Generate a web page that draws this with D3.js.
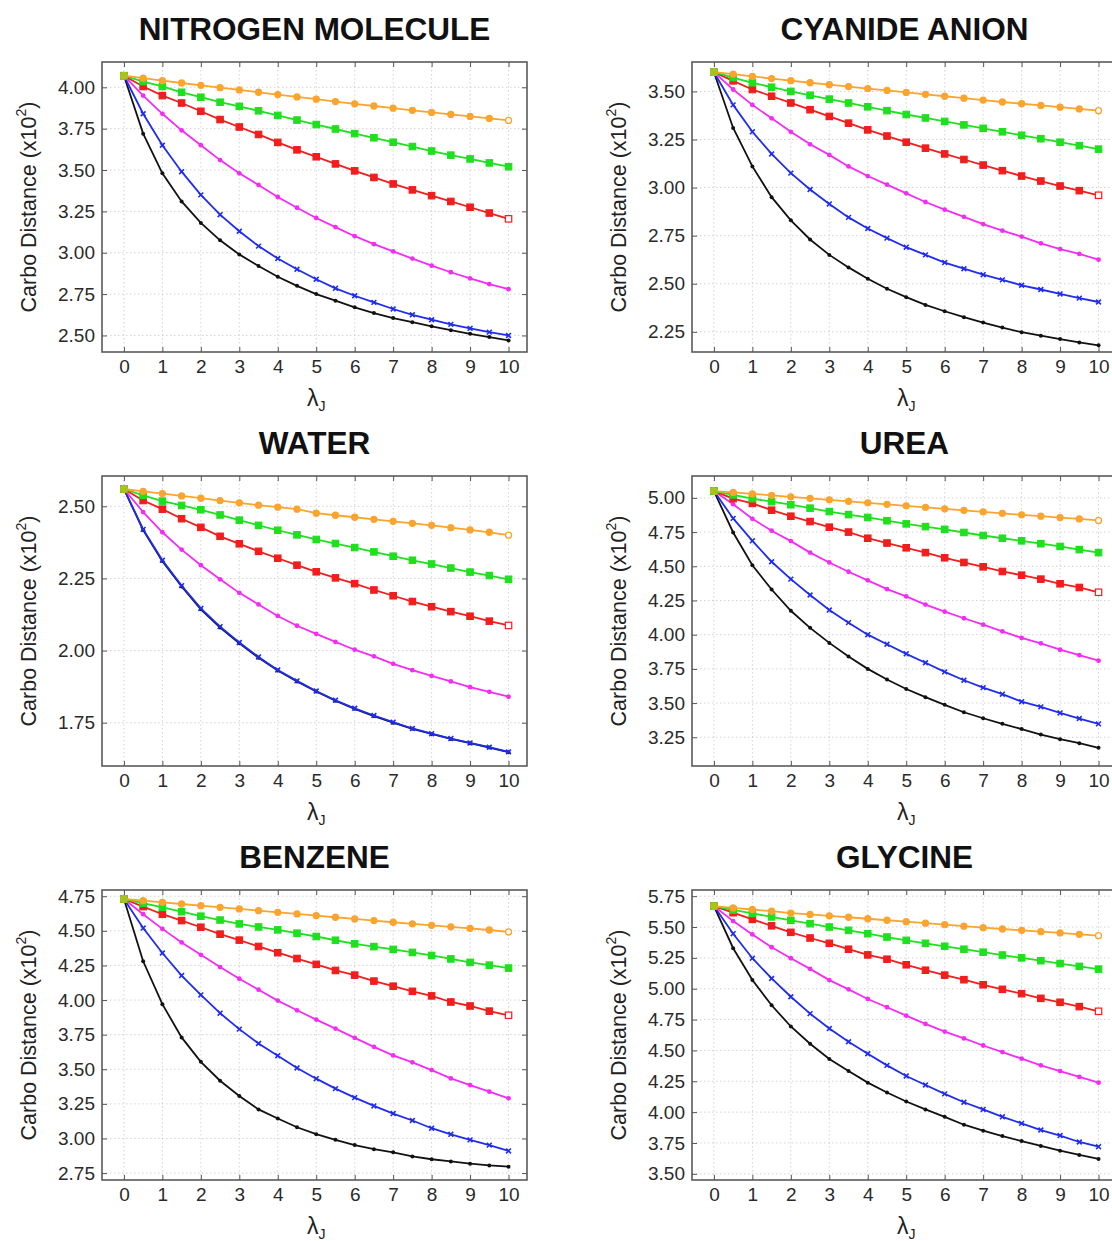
<!DOCTYPE html>
<html>
<head>
<meta charset="utf-8">
<script src="https://cdn.jsdelivr.net/npm/d3@7.9.0/dist/d3.min.js"></script>
<style>
  body { margin: 0; background: #fff; }
  svg { display: block; font-family: "Liberation Sans", Arial, sans-serif; }
  .tick text { fill: #2a2a2a; font-size: 19px; }
  .domain { display: none; }
</style>
</head>
<body>
<svg id="chart" width="1112" height="1241"></svg>
<script>
const lambdas = [0, 0.5, 1, 1.5, 2, 2.5, 3, 3.5, 4, 4.5, 5, 5.5, 6, 6.5, 7, 7.5, 8, 8.5, 9, 9.5, 10];
const xTicks = [0, 1, 2, 3, 4, 5, 6, 7, 8, 9, 10];

// series order in every panel: orange, green, red, magenta, blue, black
const nitrogen = [
  [4.07, 4.055, 4.04, 4.026, 4.012, 3.998, 3.984, 3.970, 3.956, 3.942, 3.928, 3.914, 3.900, 3.887, 3.874, 3.861, 3.848, 3.836, 3.824, 3.812, 3.800],
  [4.07, 4.035, 4.005, 3.97, 3.94, 3.91, 3.885, 3.858, 3.83, 3.802, 3.775, 3.748, 3.72, 3.695, 3.668, 3.642, 3.615, 3.59, 3.567, 3.543, 3.52],
  [4.07, 4.005, 3.95, 3.905, 3.855, 3.805, 3.76, 3.715, 3.667, 3.622, 3.58, 3.537, 3.495, 3.455, 3.416, 3.38, 3.345, 3.31, 3.275, 3.24, 3.205],
  [4.07, 3.95, 3.84, 3.74, 3.65, 3.56, 3.48, 3.41, 3.337, 3.272, 3.21, 3.155, 3.10, 3.052, 3.008, 2.965, 2.922, 2.882, 2.845, 2.81, 2.78],
  [4.07, 3.84, 3.65, 3.49, 3.35, 3.23, 3.13, 3.04, 2.965, 2.90, 2.84, 2.785, 2.74, 2.70, 2.66, 2.625, 2.595, 2.567, 2.543, 2.52, 2.50],
  [4.07, 3.72, 3.48, 3.31, 3.18, 3.075, 2.99, 2.92, 2.855, 2.80, 2.75, 2.71, 2.67, 2.635, 2.605, 2.58, 2.555, 2.532, 2.51, 2.49, 2.47]
];
const cyanide = [
  [3.60, 3.59, 3.578, 3.567, 3.556, 3.545, 3.535, 3.525, 3.515, 3.505, 3.495, 3.485, 3.475, 3.465, 3.455, 3.445, 3.436, 3.427, 3.418, 3.409, 3.40],
  [3.60, 3.572, 3.545, 3.522, 3.50, 3.48, 3.46, 3.44, 3.42, 3.40, 3.38, 3.362, 3.344, 3.326, 3.308, 3.29, 3.272, 3.254, 3.236, 3.218, 3.20],
  [3.60, 3.555, 3.51, 3.475, 3.44, 3.405, 3.37, 3.335, 3.30, 3.268, 3.236, 3.205, 3.175, 3.146, 3.117, 3.088, 3.06, 3.034, 3.008, 2.984, 2.96],
  [3.60, 3.51, 3.43, 3.36, 3.29, 3.225, 3.17, 3.11, 3.06, 3.015, 2.97, 2.925, 2.885, 2.848, 2.81, 2.776, 2.745, 2.71, 2.68, 2.655, 2.625],
  [3.60, 3.43, 3.29, 3.175, 3.075, 2.99, 2.915, 2.845, 2.787, 2.737, 2.69, 2.65, 2.61, 2.578, 2.547, 2.52, 2.492, 2.47, 2.447, 2.425, 2.405],
  [3.60, 3.31, 3.11, 2.95, 2.83, 2.73, 2.65, 2.585, 2.526, 2.474, 2.43, 2.39, 2.357, 2.326, 2.298, 2.272, 2.248, 2.23, 2.212, 2.195, 2.18]
];
const water = [
  [2.56, 2.552, 2.544, 2.536, 2.528, 2.52, 2.512, 2.504, 2.497, 2.49, 2.476, 2.469, 2.462, 2.455, 2.448, 2.441, 2.434, 2.426, 2.418, 2.41, 2.40],
  [2.56, 2.538, 2.518, 2.503, 2.488, 2.47, 2.452, 2.434, 2.417, 2.401, 2.385, 2.371, 2.357, 2.342, 2.327, 2.313, 2.30, 2.286, 2.272, 2.26, 2.247],
  [2.56, 2.52, 2.49, 2.457, 2.427, 2.396, 2.37, 2.344, 2.32, 2.296, 2.273, 2.252, 2.232, 2.21, 2.19, 2.17, 2.152, 2.135, 2.119, 2.102, 2.087],
  [2.56, 2.48, 2.41, 2.35, 2.296, 2.247, 2.20, 2.16, 2.12, 2.086, 2.058, 2.03, 2.003, 1.98, 1.954, 1.932, 1.912, 1.893, 1.873, 1.857, 1.84],
  [2.56, 2.42, 2.313, 2.225, 2.146, 2.083, 2.028, 1.978, 1.933, 1.895, 1.86, 1.828, 1.80, 1.775, 1.752, 1.73, 1.712, 1.695, 1.68, 1.665, 1.649],
  [2.56, 2.418, 2.31, 2.222, 2.143, 2.08, 2.025, 1.975, 1.931, 1.893, 1.858, 1.826, 1.798, 1.773, 1.75, 1.729, 1.711, 1.694, 1.679, 1.664, 1.648]
];
const urea = [
  [5.05, 5.04, 5.03, 5.019, 5.008, 4.997, 4.986, 4.975, 4.964, 4.953, 4.942, 4.931, 4.92, 4.909, 4.898, 4.887, 4.876, 4.866, 4.856, 4.846, 4.835],
  [5.05, 5.022, 4.995, 4.972, 4.95, 4.925, 4.90, 4.878, 4.857, 4.833, 4.81, 4.79, 4.77, 4.747, 4.725, 4.705, 4.686, 4.665, 4.645, 4.622, 4.60],
  [5.05, 4.995, 4.96, 4.91, 4.866, 4.827, 4.786, 4.75, 4.705, 4.67, 4.635, 4.60, 4.562, 4.528, 4.496, 4.462, 4.435, 4.406, 4.372, 4.345, 4.31],
  [5.05, 4.954, 4.847, 4.76, 4.684, 4.60, 4.528, 4.46, 4.397, 4.333, 4.28, 4.22, 4.168, 4.12, 4.073, 4.024, 3.976, 3.937, 3.89, 3.85, 3.81],
  [5.05, 4.85, 4.686, 4.533, 4.406, 4.29, 4.18, 4.088, 4.00, 3.93, 3.86, 3.795, 3.728, 3.667, 3.613, 3.565, 3.51, 3.472, 3.428, 3.387, 3.348],
  [5.05, 4.747, 4.508, 4.33, 4.175, 4.05, 3.94, 3.84, 3.75, 3.672, 3.603, 3.543, 3.487, 3.433, 3.389, 3.348, 3.31, 3.27, 3.236, 3.207, 3.173]
];
const benzene = [
  [4.73, 4.718, 4.706, 4.694, 4.682, 4.67, 4.658, 4.646, 4.634, 4.622, 4.61, 4.598, 4.586, 4.574, 4.562, 4.551, 4.54, 4.529, 4.518, 4.506, 4.492],
  [4.73, 4.70, 4.67, 4.638, 4.606, 4.578, 4.55, 4.528, 4.507, 4.483, 4.459, 4.432, 4.406, 4.386, 4.366, 4.344, 4.322, 4.297, 4.272, 4.252, 4.231],
  [4.73, 4.675, 4.62, 4.574, 4.526, 4.476, 4.433, 4.387, 4.342, 4.30, 4.258, 4.214, 4.18, 4.137, 4.10, 4.063, 4.03, 3.986, 3.957, 3.92, 3.89],
  [4.73, 4.62, 4.514, 4.416, 4.327, 4.238, 4.154, 4.075, 3.996, 3.926, 3.859, 3.794, 3.727, 3.662, 3.60, 3.55, 3.494, 3.434, 3.386, 3.338, 3.29],
  [4.73, 4.52, 4.34, 4.177, 4.037, 3.905, 3.79, 3.686, 3.598, 3.509, 3.432, 3.36, 3.295, 3.235, 3.18, 3.13, 3.074, 3.03, 2.99, 2.952, 2.91],
  [4.73, 4.28, 3.97, 3.73, 3.554, 3.417, 3.307, 3.21, 3.144, 3.081, 3.031, 2.99, 2.952, 2.923, 2.90, 2.87, 2.85, 2.834, 2.818, 2.805, 2.796]
];
const glycine = [
  [5.67, 5.655, 5.642, 5.628, 5.613, 5.602, 5.591, 5.579, 5.567, 5.555, 5.543, 5.531, 5.519, 5.507, 5.495, 5.484, 5.473, 5.462, 5.452, 5.441, 5.43],
  [5.67, 5.638, 5.61, 5.582, 5.554, 5.527, 5.50, 5.473, 5.446, 5.419, 5.392, 5.368, 5.344, 5.32, 5.296, 5.273, 5.25, 5.227, 5.204, 5.181, 5.159],
  [5.67, 5.616, 5.562, 5.51, 5.457, 5.411, 5.368, 5.32, 5.274, 5.239, 5.194, 5.15, 5.11, 5.073, 5.032, 4.995, 4.96, 4.922, 4.89, 4.855, 4.817],
  [5.67, 5.548, 5.44, 5.336, 5.247, 5.161, 5.07, 4.995, 4.917, 4.85, 4.782, 4.715, 4.653, 4.597, 4.54, 4.487, 4.433, 4.379, 4.333, 4.285, 4.239],
  [5.67, 5.446, 5.247, 5.083, 4.935, 4.798, 4.677, 4.57, 4.473, 4.379, 4.293, 4.22, 4.148, 4.08, 4.022, 3.962, 3.909, 3.855, 3.81, 3.758, 3.72],
  [5.67, 5.328, 5.07, 4.866, 4.694, 4.554, 4.43, 4.333, 4.239, 4.159, 4.086, 4.022, 3.962, 3.898, 3.85, 3.806, 3.766, 3.726, 3.688, 3.653, 3.621]
];

const titles = ["NITROGEN MOLECULE", "CYANIDE ANION", "WATER", "UREA", "BENZENE", "GLYCINE"];
const yTicksN2 = [2.50, 2.75, 3.00, 3.25, 3.50, 3.75, 4.00];
const yTicksCN = [2.25, 2.50, 2.75, 3.00, 3.25, 3.50];
const yTicksWater = [1.75, 2.00, 2.25, 2.50];
const yTicksUrea = [3.25, 3.50, 3.75, 4.00, 4.25, 4.50, 4.75, 5.00];
const yTicksBenzene = [2.75, 3.00, 3.25, 3.50, 3.75, 4.00, 4.25, 4.50, 4.75];
const yTicksGlycine = [3.50, 3.75, 4.00, 4.25, 4.50, 4.75, 5.00, 5.25, 5.50, 5.75];

const seriesColors = ["#fba42e", "#1fe01f", "#f21d1d", "#f52cf5", "#1f2cf0", "#111111"];
const markers = ["circle", "square", "square", "dot", "cross", "dot"];

const panels = [
  { title: titles[0], data: nitrogen, ticks: yTicksN2, domain: [2.40, 4.153] },
  { title: titles[1], data: cyanide, ticks: yTicksCN, domain: [2.145, 3.653] },
  { title: titles[2], data: water, ticks: yTicksWater, domain: [1.60, 2.605] },
  { title: titles[3], data: urea, ticks: yTicksUrea, domain: [3.04, 5.16] },
  { title: titles[4], data: benzene, ticks: yTicksBenzene, domain: [2.70, 4.795] },
  { title: titles[5], data: glycine, ticks: yTicksGlycine, domain: [3.45, 5.80] }
];

const svg = d3.select("#chart");
const colLeft = [102, 692];
const rowTop = [62, 476, 890];
const w = 425, h = 290;

const x = d3.scaleLinear().domain([-0.57, 10.48]).range([0, w]);

panels.forEach((p, i) => {
  const g = svg.append("g")
    .attr("transform", `translate(${colLeft[i % 2]},${rowTop[Math.floor(i / 2)]})`);
  const y = d3.scaleLinear().domain(p.domain).range([h, 0]);

  // grid
  g.append("g").selectAll("line.gx").data(xTicks).join("line")
    .attr("x1", d => x(d)).attr("x2", d => x(d)).attr("y1", 0).attr("y2", h)
    .attr("stroke", "#c8c8c8").attr("stroke-width", 0.8).attr("stroke-dasharray", "1.5,2.5");
  g.append("g").selectAll("line.gy").data(p.ticks).join("line")
    .attr("x1", 0).attr("x2", w).attr("y1", d => y(d)).attr("y2", d => y(d))
    .attr("stroke", "#c8c8c8").attr("stroke-width", 0.8).attr("stroke-dasharray", "1.5,2.5");

  // axes with inward ticks
  g.append("g").attr("transform", `translate(0,${h})`)
    .call(d3.axisBottom(x).tickValues(xTicks).tickSize(-5).tickPadding(8))
    .call(a => a.selectAll(".tick line").attr("stroke", "#555"));
  g.append("g")
    .call(d3.axisTop(x).tickValues(xTicks).tickSize(-5).tickFormat(""))
    .call(a => a.selectAll(".tick line").attr("stroke", "#555"));
  g.append("g")
    .call(d3.axisLeft(y).tickValues(p.ticks).tickSize(-5).tickPadding(7).tickFormat(d3.format(".2f")))
    .call(a => a.selectAll(".tick line").attr("stroke", "#555"));
  g.append("g").attr("transform", `translate(${w},0)`)
    .call(d3.axisRight(y).tickValues(p.ticks).tickSize(-5).tickFormat(""))
    .call(a => a.selectAll(".tick line").attr("stroke", "#555"));

  g.append("rect").attr("width", w).attr("height", h)
    .attr("fill", "none").attr("stroke", "#5a5a5a").attr("stroke-width", 1.6);

  // series, black drawn first so orange ends up on top
  const line = d3.line().x((d, k) => x(lambdas[k])).y(d => y(d));
  const order = [5, 4, 3, 2, 1, 0];
  order.forEach(s => {
    const vals = p.data[s];
    const col = seriesColors[s];
    g.append("path").datum(vals).attr("d", line)
      .attr("fill", "none").attr("stroke", col).attr("stroke-width", 1.8);
    const mg = g.append("g");
    vals.forEach((v, k) => {
      const cx = x(lambdas[k]), cy = y(v);
      const last = k === vals.length - 1;
      const m = markers[s];
      if (m === "circle") {
        mg.append("circle").attr("cx", cx).attr("cy", cy).attr("r", 3)
          .attr("fill", last ? "#fff" : col).attr("stroke", col).attr("stroke-width", 1.3);
      } else if (m === "square") {
        mg.append("rect").attr("x", cx - 3.2).attr("y", cy - 3.2).attr("width", 6.4).attr("height", 6.4)
          .attr("fill", last && s === 2 ? "#fff" : col).attr("stroke", col).attr("stroke-width", 1.2);
      } else if (m === "dot") {
        mg.append("circle").attr("cx", cx).attr("cy", cy).attr("r", s === 5 ? 2 : 2.4).attr("fill", col);
      } else {
        mg.append("path").attr("d", `M${cx - 2.4},${cy - 2.4}L${cx + 2.4},${cy + 2.4}M${cx - 2.4},${cy + 2.4}L${cx + 2.4},${cy - 2.4}`)
          .attr("stroke", col).attr("stroke-width", 1.6);
      }
    });
  });

  // start point where everything overlaps
  g.append("rect").attr("x", x(0) - 3.5).attr("y", y(p.data[0][0]) - 3.5)
    .attr("width", 7).attr("height", 7).attr("fill", "#a8c41c");

  // texts
  g.append("text").attr("x", w / 2).attr("y", -22).attr("text-anchor", "middle")
    .attr("font-size", 31.5).attr("font-weight", "bold").attr("fill", "#111").text(p.title);

  const yl = g.append("text")
    .attr("transform", `translate(-74,${h / 2}) rotate(-90)`)
    .attr("text-anchor", "middle").attr("dy", "0.35em")
    .attr("font-size", 21.5).attr("fill", "#222");
  yl.append("tspan").text("Carbo Distance (x10");
  yl.append("tspan").attr("font-size", 14).attr("dy", "-0.7em").text("2");
  yl.append("tspan").attr("dy", "0.45em").text(")");

  const xl = g.append("text").attr("x", x(5)).attr("y", h + 54)
    .attr("text-anchor", "middle").attr("font-size", 23).attr("fill", "#222");
  xl.append("tspan").text("λ");
  xl.append("tspan").attr("font-size", 14).attr("dy", "0.35em").text("J");
});
</script>
</body>
</html>
